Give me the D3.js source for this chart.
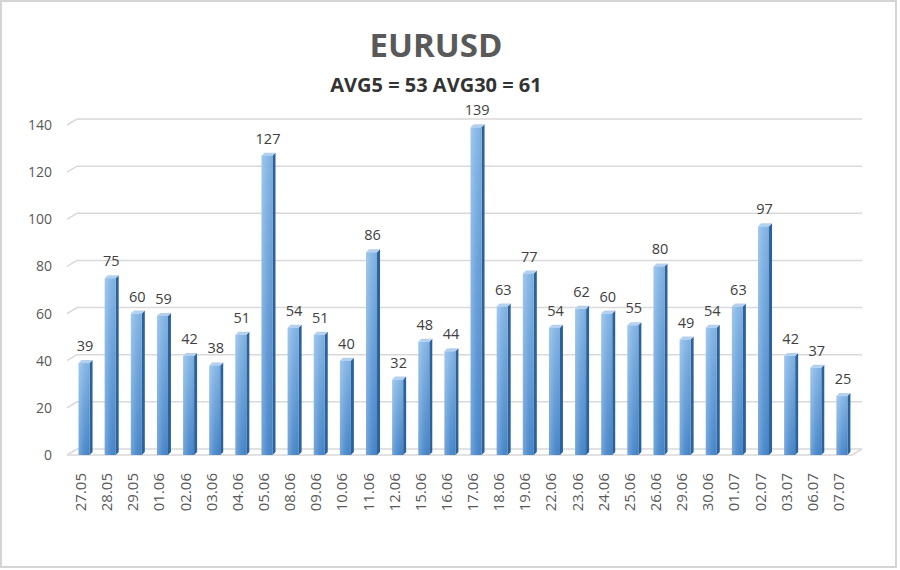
<!DOCTYPE html>
<html>
<head>
<meta charset="utf-8">
<script src="https://cdn.jsdelivr.net/npm/d3@7"></script>
<style>
  body { margin: 0; background: #fff; }
  svg { display: block; }
</style>
</head>
<body>
<div id="chart"></div>
<script>
// daily range, points
const dates = ["27.05", "28.05", "29.05", "01.06", "02.06", "03.06", "04.06", "05.06", "08.06", "09.06",
	"10.06", "11.06", "12.06", "15.06", "16.06", "17.06", "18.06", "19.06", "22.06", "23.06",
	"24.06", "25.06", "26.06", "29.06", "30.06", "01.07", "02.07", "03.07", "06.07", "07.07"];
const values = [39, 75, 60, 59, 42, 38, 51, 127, 54, 51,
	40, 86, 32, 48, 44, 139, 63, 77, 54, 62,
	60, 55, 80, 49, 54, 63, 97, 42, 37, 25];
const y_ticks = [0, 20, 40, 60, 80, 100, 120, 140];
const title = "EURUSD";
const subtitle = "AVG5 = 53 AVG30 = 61";

const width = 900, height = 570;
const font = "'Open Sans', 'DejaVu Sans', sans-serif";
// depth of the fake 3d
const dx = 10, dy = -6, bar_depth = 3;

const svg = d3.select("#chart").append("svg")
	.attr("width", width)
	.attr("height", height);

// outer frame
svg.append("rect")
	.attr("x", 1).attr("y", 1)
	.attr("width", 895).attr("height", 566)
	.attr("fill", "#fff")
	.attr("stroke", "#d4d4d4")
	.attr("stroke-width", 2);

const defs = svg.append("defs");
// vertical shading of the bar front
const grad = defs.append("linearGradient")
	.attr("id", "front")
	.attr("x1", "0%").attr("x2", "0%").attr("y1", "0%").attr("y2", "100%");
grad.append("stop").attr("offset", "0%").attr("stop-color", "#84b6e6");
grad.append("stop").attr("offset", "100%").attr("stop-color", "#4787cb");
// light edge on the left
const shine = defs.append("linearGradient")
	.attr("id", "shine")
	.attr("x1", "0%").attr("x2", "100%").attr("y1", "0%").attr("y2", "0%");
shine.append("stop").attr("offset", "0%").attr("stop-color", "#fff").attr("stop-opacity", 0.25);
shine.append("stop").attr("offset", "55%").attr("stop-color", "#fff").attr("stop-opacity", 0.03);
shine.append("stop").attr("offset", "100%").attr("stop-color", "#000").attr("stop-opacity", 0.06);

const x = d3.scaleBand()
	.domain(dates)
	.range([71, 855])
	.paddingInner(0.58)
	.paddingOuter(0.29);

const y = d3.scaleLinear()
	.domain([0, 140])
	.range([455, 125]);

// gridlines on the back wall
const grid = svg.append("g");
y_ticks.forEach(function (t) {
	grid.append("path")
		.attr("d", `M67,${y(t)}L${67 + dx},${y(t) + dy}L862,${y(t) + dy}`)
		.attr("fill", "none")
		.attr("stroke", "#d9d9d9")
		.attr("stroke-width", 1.5);
});
// floor front edge
grid.append("path")
	.attr("d", `M67,${y(0)}L852,${y(0)}L862,${y(0) + dy}`)
	.attr("fill", "none")
	.attr("stroke", "#d9d9d9")
	.attr("stroke-width", 1.5);

// y tick labels
svg.append("g")
	.selectAll("text")
	.data(y_ticks)
	.enter()
	.append("text")
	.attr("x", 52)
	.attr("y", (d) => y(d) + 5)
	.attr("text-anchor", "end")
	.attr("font-family", font)
	.attr("font-size", 14)
	.attr("fill", "#595959")
	.text((d) => d);

// bars
const bw = x.bandwidth();
const bars = svg.append("g")
	.selectAll("g")
	.data(values)
	.enter()
	.append("g");

bars.append("path")
	.attr("d", function (d, i) {
		const x0 = x(dates[i]) + bw;
		return `M${x0},${y(d)}L${x0 + bar_depth},${y(d) - bar_depth}L${x0 + bar_depth},${y(0) - bar_depth}L${x0},${y(0)}Z`;
	})
	.attr("fill", "#2a629e");

bars.append("path")
	.attr("d", function (d, i) {
		const x0 = x(dates[i]);
		return `M${x0},${y(d)}L${x0 + bar_depth},${y(d) - bar_depth}L${x0 + bw + bar_depth},${y(d) - bar_depth}L${x0 + bw},${y(d)}Z`;
	})
	.attr("fill", "#b3d0ef");

bars.append("rect")
	.attr("x", (d, i) => x(dates[i]))
	.attr("y", (d) => y(d))
	.attr("width", bw)
	.attr("height", (d) => y(0) - y(d))
	.attr("fill", "url(#front)");

bars.append("rect")
	.attr("x", (d, i) => x(dates[i]))
	.attr("y", (d) => y(d))
	.attr("width", bw)
	.attr("height", (d) => y(0) - y(d))
	.attr("fill", "url(#shine)");

// value labels
bars.append("text")
	.attr("x", (d, i) => x(dates[i]) + bw / 2 + 1)
	.attr("y", (d) => y(d) - 12)
	.attr("text-anchor", "middle")
	.attr("font-family", font)
	.attr("font-size", 14.5)
	.attr("fill", "#404040")
	.text((d) => d);

// x tick labels, rotated
svg.append("g")
	.selectAll("text")
	.data(dates)
	.enter()
	.append("text")
	.attr("transform", (d) => `translate(${x(d) + bw / 2 + 2},473) rotate(-90)`)
	.attr("text-anchor", "end")
	.attr("font-family", font)
	.attr("font-size", 15)
	.attr("fill", "#595959")
	.text((d) => d);

// titles
svg.append("text")
	.attr("x", 436)
	.attr("y", 57)
	.attr("text-anchor", "middle")
	.attr("font-family", font)
	.attr("font-weight", "bold")
	.attr("font-size", 33)
	.attr("fill", "#595959")
	.text(title);

svg.append("text")
	.attr("x", 436)
	.attr("y", 92)
	.attr("text-anchor", "middle")
	.attr("font-family", font)
	.attr("font-weight", "bold")
	.attr("font-size", 20)
	.attr("fill", "#333")
	.text(subtitle);
</script>
</body>
</html>
